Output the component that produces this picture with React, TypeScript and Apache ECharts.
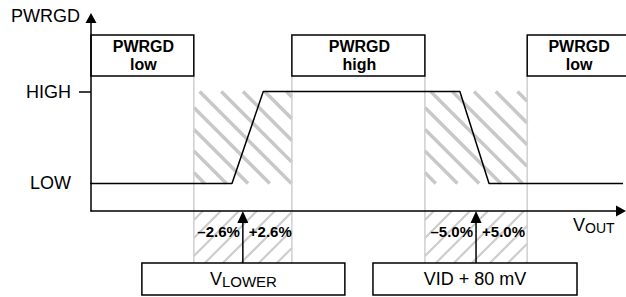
import { useEffect, useRef } from "react";
import * as echarts from "echarts";

// logic levels on the vertical axis
const levelNames = ["LOW", "HIGH"];
const levelValues = [0, 1];

// threshold windows (x in arbitrary VOUT units)
const thresholdCenters = [28.65, 72.65];
const bandHalfWidths = [9.25, 9.65];
const tolerancePercents = [2.6, 5.0];
const thresholdMain = ["V", "VID + 80 mV"];
const thresholdSub = ["LOWER", ""];
const lowerBoxStarts = [9.6, 53.2];
const lowerBoxEnds = [47.9, 91.7];

// PWRGD state regions
const stateTitles = ["PWRGD", "PWRGD", "PWRGD"];
const stateLevels = ["low", "high", "low"];
const stateStarts = [0, 37.9, 82.3];
const stateEnds = [19.4, 63.0, 101.5];

// PWRGD waveform
const waveX = [-2.3, 26.6, 32.5, 69.6, 75.1, 101];
const waveY = [0, 0, 1, 1, 0, 0];

const FONT = "'Liberation Sans', Arial, Helvetica, sans-serif";
const BOX_TOP = 1.615;
const BOX_BOTTOM = 1.169;
const AXIS_Y = -0.3;
const LOWER_TOP = -0.866;
const LOWER_BOTTOM = -1.214;

function hatch(
  out: any[],
  x0: number,
  y0: number,
  x1: number,
  y1: number,
  step: number,
  dir: "down" | "up",
  style: any
) {
  if (dir === "down") {
    for (let c = x0 - y1 + step / 2; c < x1 - y0; c += step) {
      const ya = Math.max(y0, x0 - c);
      const yb = Math.min(y1, x1 - c);
      if (yb > ya)
        out.push({
          type: "line",
          shape: { x1: ya + c, y1: ya, x2: yb + c, y2: yb },
          style,
          silent: true,
        });
    }
  } else {
    for (let c = x0 + y0 + step / 2; c < x1 + y1; c += step) {
      const ya = Math.max(y0, c - x1);
      const yb = Math.min(y1, c - x0);
      if (yb > ya)
        out.push({
          type: "line",
          shape: { x1: c - ya, y1: ya, x2: c - yb, y2: yb },
          style,
          silent: true,
        });
    }
  }
}

export default function App() {
  const ref = useRef<HTMLDivElement>(null);
  useEffect(() => {
    if (!ref.current) return;
    const chart = echarts.init(ref.current, undefined, { renderer: "svg" });
    const boldText = (text: string, x: number, y: number) => ({
      type: "text",
      x,
      y,
      style: {
        text,
        align: "center",
        verticalAlign: "middle",
        fontSize: 16,
        fontWeight: "bold",
        fontFamily: FONT,
        fill: "#000",
      },
    });
    const option: any = {
      animation: false,
      textStyle: { fontFamily: FONT, color: "#000" },
      grid: { left: 91, right: 5, top: 18, bottom: 86, outerBoundsMode: "none" },
      xAxis: {
        type: "value",
        min: 0,
        max: 100,
        z: 10,
        axisLine: {
          show: true,
          onZero: false,
          symbol: ["none", "triangle"],
          symbolSize: [11, 10],
          lineStyle: { color: "#000", width: 1.5 },
        },
        axisTick: { show: false },
        axisLabel: { show: false },
        splitLine: { show: false },
        name: "{v|V}{s|OUT}",
        nameLocation: "end",
        nameGap: -48,
        nameTextStyle: {
          align: "left",
          verticalAlign: "top",
          padding: [4, 0, 0, 0],
          rich: {
            v: { fontSize: 18, lineHeight: 20, fontFamily: FONT, color: "#000" },
            s: { fontSize: 14, lineHeight: 10, verticalAlign: "bottom", fontFamily: FONT, color: "#000" },
          },
        },
      },
      yAxis: {
        type: "value",
        min: -0.3,
        max: 1.8,
        z: 10,
        axisLine: {
          show: true,
          symbol: ["none", "triangle"],
          symbolSize: [11, 10],
          lineStyle: { color: "#000", width: 1.5 },
        },
        axisTick: {
          show: true,
          customValues: [1],
          length: 12,
          lineStyle: { color: "#000", width: 1.5 },
        },
        axisLabel: {
          show: true,
          customValues: levelValues,
          margin: 20,
          fontSize: 18,
          color: "#000",
          fontFamily: FONT,
          formatter: (v: number) => levelNames[levelValues.indexOf(v)] ?? "",
        },
        splitLine: { show: false },
        name: "PWRGD",
        nameLocation: "end",
        nameGap: 2,
        nameTextStyle: {
          fontSize: 18,
          color: "#000",
          fontFamily: FONT,
          align: "right",
          verticalAlign: "middle",
          padding: [0, 11, 0, 0],
        },
      },
      series: [
        {
          type: "custom",
          name: "windows",
          z: 1,
          clip: false,
          data: thresholdCenters.map((c) => [c, 0]),
          renderItem: (params: any, api: any) => {
            const i = params.dataIndex;
            const c = thresholdCenters[i];
            const h = bandHalfWidths[i];
            const [xl, yHigh] = api.coord([c - h, 1]);
            const [xr, yLow] = api.coord([c + h, 0]);
            const yBoxBottom = api.coord([c, BOX_BOTTOM])[1];
            const yAxisPx = api.coord([c, AXIS_Y])[1];
            const [xc, yLowerTop] = api.coord([c, LOWER_TOP]);
            const children: any[] = [];
            hatch(children, xl, yHigh, xr, yLow, 21.7, "down", {
              stroke: "#c8c8c8",
              lineWidth: 3.5,
            });
            hatch(children, xl, yAxisPx, xr, yLowerTop, 18, "up", {
              stroke: "#cdcdcd",
              lineWidth: 2.2,
            });
            for (const xb of [xl, xr]) {
              children.push({
                type: "line",
                shape: { x1: xb, y1: yBoxBottom, x2: xb, y2: yLowerTop },
                style: { stroke: "#cfcfcf", lineWidth: 1.5 },
              });
            }
            children.push({
              type: "line",
              shape: { x1: xc, y1: yLowerTop, x2: xc, y2: yAxisPx + 10 },
              style: { stroke: "#000", lineWidth: 1.5 },
            });
            children.push({
              type: "polygon",
              shape: {
                points: [
                  [xc, yAxisPx],
                  [xc - 5.5, yAxisPx + 12],
                  [xc + 5.5, yAxisPx + 12],
                ],
              },
              style: { fill: "#000" },
            });
            const t = tolerancePercents[i].toFixed(1);
            children.push({
              type: "text",
              x: xc - 3,
              y: yAxisPx + 20,
              style: {
                text: "–" + t + "%",
                align: "right",
                verticalAlign: "middle",
                fontSize: 15,
                fontWeight: "bold",
                fontFamily: FONT,
                fill: "#000",
              },
            });
            children.push({
              type: "text",
              x: xc + 6,
              y: yAxisPx + 20,
              style: {
                text: "+" + t + "%",
                align: "left",
                verticalAlign: "middle",
                fontSize: 15,
                fontWeight: "bold",
                fontFamily: FONT,
                fill: "#000",
              },
            });
            return { type: "group", children };
          },
        },
        {
          type: "line",
          name: "PWRGD",
          z: 3,
          clip: false,
          symbol: "none",
          lineStyle: { color: "#000", width: 1.5 },
          data: waveX.map((x, i) => [x, waveY[i]]),
        },
        {
          type: "custom",
          name: "states",
          z: 4,
          clip: false,
          data: stateStarts.map((s, i) => [s, stateEnds[i]]),
          renderItem: (params: any, api: any) => {
            const i = params.dataIndex;
            const [x0, y0] = api.coord([stateStarts[i], BOX_TOP]);
            const [x1, y1] = api.coord([stateEnds[i], BOX_BOTTOM]);
            const cx = (x0 + x1) / 2 + 1;
            const cy = (y0 + y1) / 2;
            return {
              type: "group",
              children: [
                {
                  type: "rect",
                  shape: { x: x0, y: y0, width: x1 - x0, height: y1 - y0 },
                  style: { fill: "#fff", stroke: "#000", lineWidth: 1.5 },
                },
                boldText(stateTitles[i], cx, cy - 9),
                boldText(stateLevels[i], cx, cy + 9),
              ],
            };
          },
        },
        {
          type: "custom",
          name: "thresholds",
          z: 4,
          clip: false,
          data: lowerBoxStarts.map((s, i) => [s, lowerBoxEnds[i]]),
          renderItem: (params: any, api: any) => {
            const i = params.dataIndex;
            const [x0, y0] = api.coord([lowerBoxStarts[i], LOWER_TOP]);
            const [x1, y1] = api.coord([lowerBoxEnds[i], LOWER_BOTTOM]);
            const sub = thresholdSub[i];
            const text = "{v|" + thresholdMain[i] + "}" + (sub ? "{s|" + sub + "}" : "");
            return {
              type: "group",
              children: [
                {
                  type: "rect",
                  shape: { x: x0, y: y0, width: x1 - x0, height: y1 - y0 },
                  style: { fill: "#fff", stroke: "#000", lineWidth: 1.5 },
                },
                {
                  type: "text",
                  x: (x0 + x1) / 2,
                  y: (y0 + y1) / 2,
                  style: {
                    text,
                    align: "center",
                    verticalAlign: "middle",
                    rich: {
                      v: { fontSize: 18, lineHeight: 20, fontFamily: FONT, fill: "#000" },
                      s: {
                        fontSize: 15,
                        lineHeight: 10,
                        verticalAlign: "bottom",
                        fontFamily: FONT,
                        fill: "#000",
                      },
                    },
                  },
                },
              ],
            };
          },
        },
      ],
    };
    chart.setOption(option);
    return () => chart.dispose();
  }, []);
  return (
    <div
      ref={ref}
      style={{ position: "fixed", left: 0, top: 0, width: 626, height: 297, background: "#fff" }}
    />
  );
}
